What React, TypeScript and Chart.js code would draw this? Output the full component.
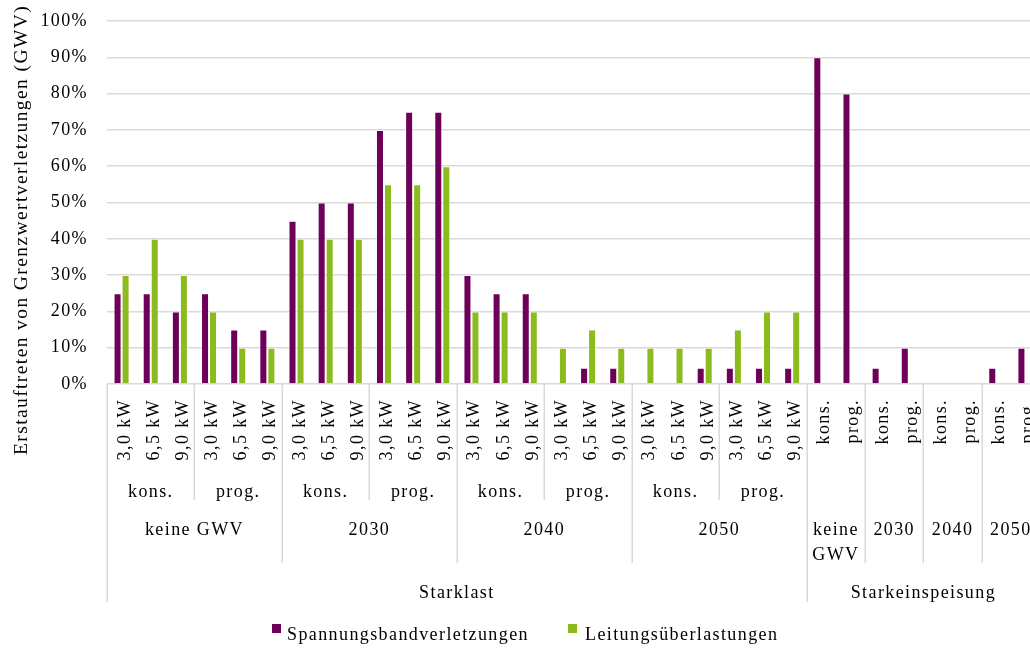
import React, { useEffect, useRef } from 'react';
import { Chart, registerables } from 'chart.js';

Chart.register(...registerables);

// ---- data ----
const categories = [
  '3,0 kW', '6,5 kW', '9,0 kW', '3,0 kW', '6,5 kW', '9,0 kW',
  '3,0 kW', '6,5 kW', '9,0 kW', '3,0 kW', '6,5 kW', '9,0 kW',
  '3,0 kW', '6,5 kW', '9,0 kW', '3,0 kW', '6,5 kW', '9,0 kW',
  '3,0 kW', '6,5 kW', '9,0 kW', '3,0 kW', '6,5 kW', '9,0 kW',
  'kons.', 'prog.', 'kons.', 'prog.', 'kons.', 'prog.', 'kons.', 'prog.',
];
const spannungsband = [
  25, 25, 20, 25, 15, 15,
  45, 50, 50, 70, 75, 75,
  30, 25, 25, 0, 4.5, 4.5,
  0, 0, 4.5, 4.5, 4.5, 4.5,
  90, 80, 4.5, 10, 0, 0, 4.5, 10,
];
const leitung = [
  30, 40, 30, 20, 10, 10,
  40, 40, 40, 55, 55, 60,
  20, 20, 20, 10, 15, 10,
  10, 10, 10, 15, 20, 20,
  0, 0, 0, 0, 0, 0, 0, 0,
];
const seriesNames = ['Spannungsbandverletzungen', 'Leitungsüberlastungen'];
const level2Labels = ['kons.', 'prog.', 'kons.', 'prog.', 'kons.', 'prog.', 'kons.', 'prog.'];
const level2Spans = [3, 3, 3, 3, 3, 3, 3, 3];
const level3Labels = ['keine GWV', '2030', '2040', '2050', 'keine\nGWV', '2030', '2040', '2050'];
const level3Spans = [6, 6, 6, 6, 2, 2, 2, 2];
const level4Labels = ['Starklast', 'Starkeinspeisung'];
const level4Spans = [24, 8];
const yTitle = 'Erstauftreten von Grenzwertverletzungen (GWV)';

const PURPLE = '#6d0059';
const GREEN = '#8cbb1e';
const TEXT = '#000000';
const GRID = '#d9d9d9';
const FONT_FAMILY = '"Liberation Serif", "Times New Roman", serif';
const FONT = `18px ${FONT_FAMILY}`;
const TITLE_FONT = `19.5px ${FONT_FAMILY}`;
const SPACING = '1.4px';

const multiLevelPlugin = {
  id: 'multiLevel',
  beforeDraw(chart: any) {
    (chart.ctx as any).letterSpacing = SPACING;
  },
  afterDraw(chart: any) {
    const ctx = chart.ctx;
    const xs = chart.scales.x;
    const ca = chart.chartArea;
    const n = categories.length;
    const cw = (xs.getPixelForValue(n - 1) - xs.getPixelForValue(0)) / (n - 1);
    const edge = (i: number) => (i < n ? xs.getPixelForValue(i) - cw / 2 : xs.getPixelForValue(n - 1) + cw / 2);

    ctx.save();
    (ctx as any).letterSpacing = SPACING;
    ctx.font = FONT;
    ctx.fillStyle = TEXT;

    // level 1 rotated labels
    categories.forEach((c, i) => {
      ctx.save();
      ctx.translate(xs.getPixelForValue(i) + 8, 399);
      ctx.rotate(-Math.PI / 2);
      ctx.textAlign = 'right';
      ctx.textBaseline = 'alphabetic';
      ctx.fillText(c, 0, 0);
      ctx.restore();
    });

    const sepEnd: Record<number, number> = {};
    const setSep = (b: number, y: number) => {
      sepEnd[b] = Math.max(sepEnd[b] || 0, y);
    };

    // level 2
    ctx.textAlign = 'center';
    ctx.textBaseline = 'alphabetic';
    let s = 0;
    level2Labels.forEach((l, k) => {
      const e = s + level2Spans[k];
      ctx.fillText(l, (edge(s) + edge(e)) / 2, 497);
      setSep(s, 500);
      setSep(e, 500);
      s = e;
    });

    // level 3
    s = 0;
    level3Labels.forEach((l, k) => {
      const e = s + level3Spans[k];
      const cx = (edge(s) + edge(e)) / 2;
      l.split('\n').forEach((line, j) => ctx.fillText(line, cx, 535 + j * 25));
      setSep(s, 563);
      setSep(e, 563);
      s = e;
    });

    // level 4
    s = 0;
    level4Labels.forEach((l, k) => {
      const e = s + level4Spans[k];
      ctx.fillText(l, (edge(s) + edge(e)) / 2, 598);
      setSep(s, 602);
      setSep(e, 602);
      s = e;
    });

    ctx.strokeStyle = GRID;
    ctx.lineWidth = 1.5;
    Object.keys(sepEnd).forEach((k) => {
      const b = Number(k);
      const x = Math.round(edge(b)) + 0.25;
      ctx.beginPath();
      ctx.moveTo(x, ca.bottom);
      ctx.lineTo(x, sepEnd[b]);
      ctx.stroke();
    });

    // y title
    ctx.save();
    ctx.font = TITLE_FONT;
    ctx.translate(27, 230);
    ctx.rotate(-Math.PI / 2);
    ctx.textAlign = 'center';
    ctx.textBaseline = 'alphabetic';
    ctx.fillText(yTitle, 0, 0);
    ctx.restore();

    // legend
    ctx.textAlign = 'left';
    ctx.textBaseline = 'alphabetic';
    ctx.fillStyle = PURPLE;
    ctx.fillRect(272, 624, 9, 9);
    ctx.fillStyle = TEXT;
    ctx.fillText(seriesNames[0], 287, 640);
    ctx.fillStyle = GREEN;
    ctx.fillRect(568, 624, 9, 9);
    ctx.fillStyle = TEXT;
    ctx.fillText(seriesNames[1], 585, 640);

    ctx.restore();
  },
};

export default function App() {
  const ref = useRef<HTMLCanvasElement | null>(null);
  useEffect(() => {
    if (!ref.current) return;
    const chart = new Chart(ref.current, {
      type: 'bar',
      data: {
        labels: categories,
        datasets: [
          {
            label: seriesNames[0],
            data: spannungsband,
            backgroundColor: PURPLE,
            borderColor: 'rgba(255,255,255,0.55)',
            borderWidth: { top: 1, left: 1, right: 1, bottom: 0 },
            barPercentage: 1,
            categoryPercentage: 0.55,
          },
          {
            label: seriesNames[1],
            data: leitung,
            backgroundColor: GREEN,
            borderColor: 'rgba(255,255,255,0.55)',
            borderWidth: { top: 1, left: 1, right: 1, bottom: 0 },
            barPercentage: 1,
            categoryPercentage: 0.55,
          },
        ],
      },
      options: {
        responsive: false,
        maintainAspectRatio: false,
        animation: false,
        layout: { padding: { top: 21, right: 6, left: 0, bottom: 0 } },
        plugins: { legend: { display: false }, tooltip: { enabled: false } },
        scales: {
          x: {
            grid: { display: false },
            border: { display: false },
            ticks: { display: false },
            afterFit: (sc: any) => {
              sc.height = 264;
            },
          },
          y: {
            min: 0,
            max: 100,
            ticks: {
              stepSize: 10,
              callback: (v: any) => `${v}%`,
              font: { family: FONT_FAMILY, size: 18 },
              color: TEXT,
              padding: 1,
            },
            grid: {
              color: GRID,
              lineWidth: 1.5,
              drawTicks: true,
              tickLength: 18,
              tickColor: 'rgba(0,0,0,0)',
            },
            border: { display: false },
            afterFit: (sc: any) => {
              sc.width = 107;
            },
          },
        },
      },
      plugins: [multiLevelPlugin],
    });
    return () => chart.destroy();
  }, []);

  return (
    <div style={{ position: 'fixed', left: 0, top: 0, width: 1030, height: 648, overflow: 'hidden', background: '#fff' }}>
      <canvas ref={ref} width={1046} height={648} style={{ display: 'block', width: 1046, height: 648 }} />
    </div>
  );
}
